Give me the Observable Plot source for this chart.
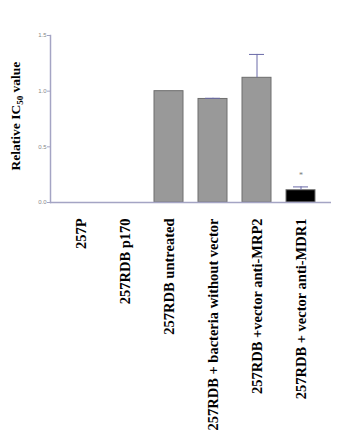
<!DOCTYPE html>
<html><head><meta charset="utf-8">
<script src="https://cdn.jsdelivr.net/npm/d3@7"></script>
<script src="https://cdn.jsdelivr.net/npm/@observablehq/plot@0.6"></script>
<style>body{margin:0;background:#fff}</style>
</head><body><div id="chart"></div>
<script>
const categories = ["257P","257RDB p170","257RDB untreated","257RDB + bacteria without vector","257RDB +vector anti-MRP2","257RDB + vector anti-MDR1"];
const values = [null, null, 1.0, 0.93, 1.12, 0.11];
const errors = [null, null, 0, 0.006, 0.21, 0.03];
const fills = ["#999","#999","#999","#999","#999","#000"];
const marks = [null, null, null, null, null, "*"];
const yTicks = [0, 0.5, 1.0, 1.5];

const data = categories.map((c,i)=>({cat:c, v:values[i], e:errors[i], fill:fills[i], mark:marks[i]}));
const bars = data.filter(d=>d.v!=null);
const errs = bars.filter(d=>d.e>0);
const axisColor = "#a4a4c4";

const chart = Plot.plot({
  width: 350, height: 448,
  marginLeft: 50, marginRight: 19, marginTop: 35, marginBottom: 246,
  style: {fontFamily: "'Liberation Serif', serif", background: "#fff"},
  x: {domain: categories, paddingInner: 0.333, paddingOuter: 0.29, label: null},
  y: {domain: [0, 1.5], label: null},
  marks: [
    Plot.barY(bars, {x:"cat", y:"v", fill:"fill", stroke:"#6e6e6e", strokeWidth:1}),
    Plot.ruleX(errs, {x:"cat", y1:"v", y2:d=>d.v+d.e, stroke:"#6a6aa8", strokeWidth:1}),
    Plot.tickY(errs, {x:"cat", y:d=>d.v+d.e, stroke:"#6a6aa8", strokeWidth:1, inset:7}),
    Plot.text(bars.filter(d=>d.mark), {x:"cat", y:d=>d.v+d.e+0.1, text:"mark", fontSize:8, fill:"#777"}),
    Plot.axisY({ticks: yTicks, tickFormat: d3.format(".1f"), fontSize: 6, fill:"#888", stroke: axisColor, tickSize: 3, tickPadding: 1, label: null, fontFamily:"Arial, sans-serif"}),
    Plot.frame({anchor:"left", stroke: axisColor, strokeWidth: 1.5}),
    Plot.ruleY([0], {stroke: axisColor, strokeWidth: 1.5}),
    Plot.axisX({tickRotate: -90, tickSize: 0, tickPadding: 16, fontSize: 14.5, fontWeight: "bold", fill: "#000", label: null})
  ]
});
document.getElementById("chart").appendChild(chart);

// y-axis title with subscript
const svg = d3.select(chart);
const t = svg.append("text")
  .attr("transform", "translate(20,116) rotate(-90)")
  .attr("text-anchor", "middle")
  .attr("font-family", "'Liberation Serif', serif")
  .attr("font-weight", "bold")
  .attr("font-size", 13.5)
  .attr("fill", "#000");
t.append("tspan").text("Relative IC");
t.append("tspan").attr("font-size", 9).attr("dy", 3).text("50");
t.append("tspan").attr("dy", -3).text(" value");
</script></body></html>
